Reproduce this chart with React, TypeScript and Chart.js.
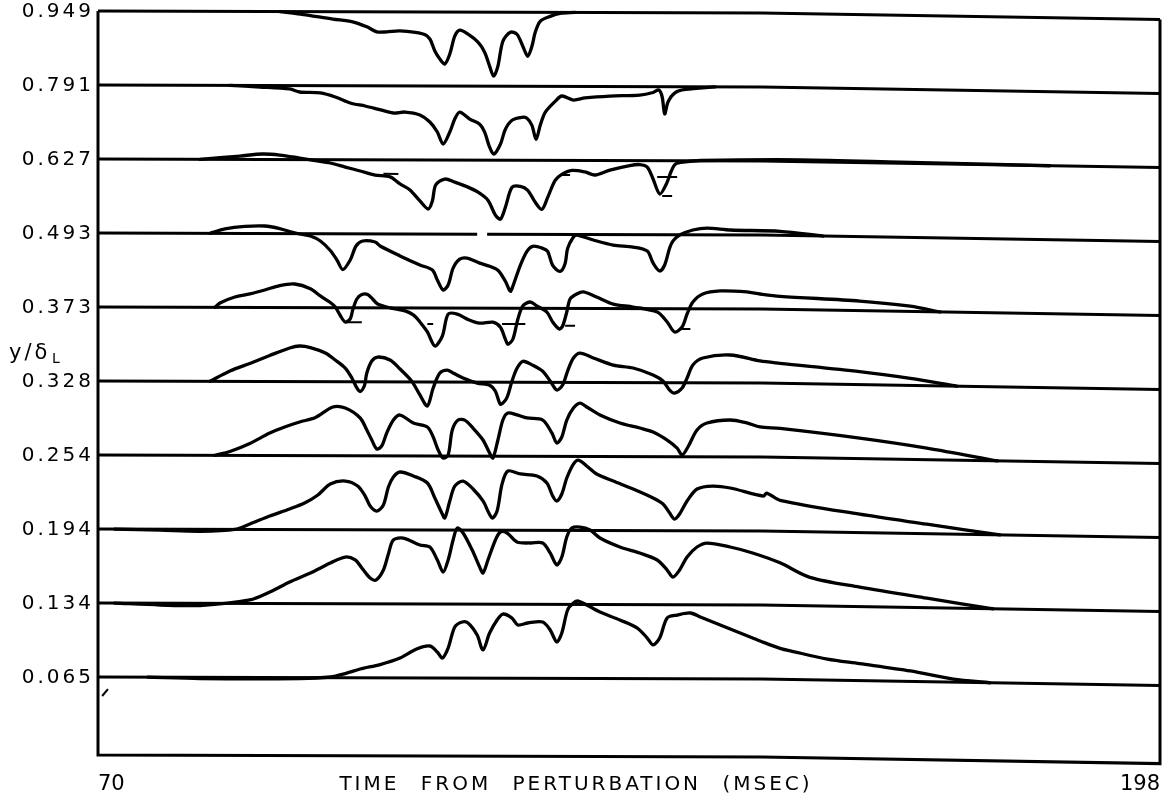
import React, { useEffect, useRef } from "react";
import { Chart, registerables } from "chart.js";

Chart.register(...registerables);

// ---- axis text -------------------------------------------------------------
const Y_LABELS = ["0.065", "0.134", "0.194", "0.254", "0.328", "0.373", "0.493", "0.627", "0.791", "0.949"]; // bottom -> top
const X_TICKS = [70, 198];
const X_TITLE = "TIME FROM PERTURBATION (MSEC)";
const Y_TITLE = "y/δ";
const Y_TITLE_SUB = "L";

// amplitude units between neighbouring trace baselines
const LEVEL_STEP = 74;
const FRAME_BOTTOM = -78;

// slow drift of all baselines in the scanned record (time ms -> amplitude units)
const DRIFT_T = [70, 150, 198];
const DRIFT_V = [0, -2, -8.6];

// gap in the 0.493 baseline
const GAP_LEVEL = 6;
const GAP_T = [115.7, 116.9];

// ---- traces: time (ms) and deviation from own baseline (amplitude units) ----
const T_0949 = [91.9, 94.4, 98.3, 100.7, 102.4, 103.6, 104.8, 106.4, 109.2, 110.0, 110.6, 111.2, 111.8, 112.4, 113.0, 113.6, 114.6, 115.8, 116.6, 117.2, 117.7, 118.2, 118.8, 119.7, 120.5, 121.2, 121.8, 122.3, 122.7, 123.3, 124.5, 125.7, 127.5];
const V_0949 = [0, -2.4, -7.3, -10, -15, -20, -20, -19, -22, -27, -39, -47, -52, -42, -24, -18, -22, -30, -40, -54, -64, -54, -29, -20, -22, -34, -44, -34, -20, -9, -4, -1, 0];

const T_0791 = [85.9, 89.5, 93.1, 94.3, 96.8, 98.6, 100.4, 102.2, 103.7, 105.6, 107.0, 108.8, 110.0, 110.9, 111.6, 112.4, 113.0, 113.6, 114.8, 116.0, 116.6, 117.2, 117.7, 118.5, 119.1, 119.9, 121.1, 121.7, 122.3, 122.8, 123.3, 123.9, 125.1, 125.9, 127.3, 128.7, 131.7, 135.3, 136.9, 137.6, 138.0, 138.3, 138.7, 139.5, 140.8, 144.4];
const V_0791 = [0, -1.5, -3.4, -6.4, -7.3, -11.3, -17.2, -20.2, -23.2, -27.1, -26.1, -29, -36, -46, -58, -46, -33, -26, -33, -38, -46, -61, -68, -58, -43, -34, -31, -32, -39, -53, -39, -26, -15, -9.6, -13.6, -11.5, -9.5, -8.4, -5.8, -3.3, -10.3, -27.3, -15.3, -6.3, -2.7, 0];

const T_0627 = [82.3, 87.1, 89.8, 91.9, 94.3, 96.2, 98.0, 99.8, 101.6, 103.4, 105.2, 106.4, 107.6, 108.8, 109.8, 110.3, 110.7, 111.8, 113.0, 114.6, 115.8, 117.0, 117.9, 118.5, 119.1, 119.9, 120.9, 121.8, 122.7, 123.5, 124.2, 125.1, 125.9, 127.1, 128.7, 129.9, 131.7, 134.1, 135.3, 136.2, 136.9, 137.7, 138.5, 139.1, 139.6, 140.8, 142.6, 154.6, 166.7, 184.7];
const V_0627 = [0, 3.4, 5.5, 4.5, 1.6, -0.9, -3.3, -7.3, -11.2, -15.2, -17, -24, -30, -41, -49, -41, -25, -19, -22, -27, -32, -40, -55, -59, -47, -27, -26, -30, -42, -49, -37, -20, -14, -10, -11.5, -14.5, -9.5, -4.9, -3.9, -6.4, -18.3, -33.3, -23.3, -10.3, -3.3, -1.2, 0.3, 1.8, 1.2, 0];

const T_0493 = [83.5, 85.3, 87.7, 90.1, 91.9, 93.1, 94.3, 95.6, 96.8, 98.0, 98.8, 99.5, 100.4, 101.1, 101.9, 103.4, 104.0, 106.4, 108.8, 110.3, 110.9, 111.6, 112.2, 112.8, 113.6, 114.5, 116.0, 117.2, 118.2, 119.1, 119.7, 120.0, 120.9, 121.7, 122.4, 123.6, 124.2, 124.8, 125.7, 126.3, 126.6, 127.3, 127.7, 129.7, 132.1, 134.5, 136.2, 136.9, 137.7, 138.3, 138.9, 139.3, 140.1, 141.7, 143.4, 146.2, 152.2, 157.4];
const V_0493 = [0, 4.4, 7, 7.5, 5, 2, -0.4, -2.4, -7.3, -16.8, -26.3, -35.8, -26.2, -12.2, -7.2, -8.2, -12.2, -22, -31, -36, -46, -56, -51, -34, -25, -24, -29, -32, -36, -47, -57, -52, -31, -17, -12, -14, -17, -31, -37, -29, -14, -2.6, -0.6, -5.5, -10.5, -12.4, -16.4, -28.3, -36.3, -30.3, -13.3, -6.3, -0.3, 4.8, 6.8, 4.9, 4, 0];

const T_0373 = [84.1, 84.7, 86.5, 88.3, 90.1, 91.9, 93.7, 95.6, 96.8, 98.0, 98.6, 99.2, 99.8, 100.4, 100.7, 101.2, 101.8, 102.5, 103.1, 103.7, 105.2, 107.0, 108.0, 108.8, 109.7, 110.6, 111.5, 112.2, 113.3, 114.5, 116.0, 117.6, 118.5, 119.1, 119.4, 120.0, 120.6, 121.2, 122.1, 122.9, 124.1, 124.8, 125.6, 126.0, 126.5, 126.9, 127.7, 128.5, 130.1, 132.1, 134.5, 137.4, 138.6, 139.5, 140.4, 141.0, 141.7, 142.9, 145.0, 148.2, 149.8, 152.2, 161.8, 167.9, 171.5];
const V_0373 = [0, 4.4, 10.4, 13.5, 17.5, 22, 23.6, 19, 11.7, 5.2, 0.7, -7.8, -14.3, -11.2, -2.2, 8.8, 13.3, 13.3, 8.8, 3.8, 0, -3, -7, -14, -24, -38, -28, -6, -6, -11, -15, -14, -19, -31, -36, -31, -11, 2.3, 6.3, 2.3, -3.7, -13.6, -20.6, -17.6, -3.6, 9.4, 14.4, 16.5, 11.5, 4.5, 1.6, -3.3, -13.3, -23.3, -18.2, -5.2, 6.8, 14.8, 17.9, 17, 15, 13, 9.6, 5.4, 0];

const T_0328 = [83.5, 85.9, 88.3, 90.7, 93.1, 94.3, 95.6, 97.4, 98.6, 99.8, 100.6, 101.2, 101.6, 102.1, 102.4, 103.0, 103.7, 105.2, 106.4, 107.8, 108.8, 109.7, 110.4, 111.2, 112.1, 112.8, 114.0, 115.7, 117.2, 117.9, 118.5, 119.1, 119.4, 119.9, 120.5, 121.2, 122.4, 123.6, 124.5, 125.3, 126.0, 126.6, 127.3, 128.1, 129.7, 132.1, 134.5, 136.9, 138.1, 138.9, 139.5, 140.4, 141.0, 141.7, 142.9, 146.2, 149.8, 152.2, 161.8, 167.9, 173.5];
const V_0328 = [0, 10.4, 18, 26, 33.6, 35.6, 34.1, 28.7, 21.7, 13.7, 3.8, -6.2, -9.7, -4.2, 8.8, 20.8, 24.8, 21.9, 12.9, 0.9, -13, -24, -6, 9, 12, 9, 4, -1, -3, -9, -22, -18, -13, 1.2, 14, 21, 17, 11, 1.4, -7.6, -2.6, 11.4, 24.4, 29.4, 24.5, 17.5, 14.6, 7.7, 1.7, -7.3, -10.3, -5.2, 4.8, 17.8, 24.8, 27.9, 22, 20, 13, 7, 0];

const T_0254 = [84.1, 85.9, 88.3, 90.7, 92.5, 94.3, 96.2, 98.3, 99.8, 101.6, 102.4, 103.0, 103.6, 104.2, 104.8, 105.6, 106.4, 108.0, 109.7, 110.4, 111.0, 111.6, 112.2, 112.7, 113.4, 114.2, 115.2, 116.4, 117.2, 117.6, 118.2, 118.8, 119.4, 120.5, 121.7, 123.6, 124.7, 125.3, 125.9, 126.5, 127.3, 128.1, 128.9, 130.5, 132.9, 135.3, 136.9, 138.6, 139.8, 140.4, 141.1, 142.2, 143.4, 146.2, 148.2, 149.8, 152.2, 161.8, 169.9, 178.4];
const V_0254 = [0, 3.9, 12, 22.5, 28.6, 33.6, 38.1, 48.7, 47.7, 37.8, 25.8, 15.8, 6.8, 9.9, 22.9, 35.9, 40.9, 33, 29, 19, 6, -2, 1, 26, 36, 36, 28, 16.2, 3.2, -1.8, 16.2, 36.2, 43.2, 41.3, 38.3, 36.3, 23.4, 13.4, 19.4, 36.4, 48.4, 53.4, 49.5, 41.5, 33.6, 28.6, 24.7, 16.7, 8.7, 1.8, 9.8, 26.8, 33.8, 36.9, 34, 30, 29, 20.6, 11.7, 0];

const T_0194 = [72, 77.5, 82.3, 86.5, 88.3, 90.7, 93.1, 94.9, 96.5, 98.0, 99.8, 101.3, 102.2, 102.8, 103.6, 104.4, 105.0, 105.6, 106.4, 108.0, 109.7, 110.6, 111.5, 111.8, 112.4, 113.0, 114.0, 115.2, 116.4, 117.5, 118.1, 118.7, 119.4, 120.9, 122.9, 124.1, 124.8, 125.3, 125.9, 126.5, 127.3, 127.9, 128.9, 130.1, 132.1, 134.5, 136.9, 138.1, 138.9, 139.5, 140.1, 141.0, 142.2, 144.1, 146.2, 150.2, 150.6, 152.2, 161.8, 169.9, 178.7];
const V_0194 = [0, -1, -2, 0, 5.5, 13.5, 20.6, 26.6, 34.7, 45.7, 48.7, 43.8, 33.8, 23.8, 18.8, 24.9, 42.9, 52.9, 57.9, 54, 47, 32, 16, 12, 29, 44, 49, 41.1, 29.2, 12.2, 19.2, 46.2, 59.2, 56.3, 54.3, 47.3, 34.4, 29.4, 36.4, 52.4, 66.4, 70.4, 64.5, 56.5, 49.5, 41.6, 32.7, 26.7, 17.7, 11.7, 16.7, 29.8, 41.8, 44.8, 42.9, 35, 38, 31, 18.4, 9.5, 0];

const T_0134 = [72, 77.5, 82.3, 88.3, 90.7, 93.1, 95.6, 98.0, 99.8, 101.0, 101.8, 102.8, 103.5, 104.4, 105.0, 105.6, 106.8, 108.8, 110.0, 110.9, 111.6, 112.2, 112.8, 113.3, 114.0, 115.1, 116.0, 116.4, 117.0, 117.9, 118.5, 119.3, 120.5, 122.1, 123.6, 124.5, 125.3, 125.9, 126.5, 127.1, 128.1, 129.3, 130.5, 132.9, 135.3, 137.4, 138.6, 139.3, 140.1, 141.0, 142.2, 143.4, 146.2, 148.9, 152.2, 155.8, 161.8, 169.9, 177.9];
const V_0134 = [0, -1.8, -2.2, 3.5, 11.5, 21.6, 30.6, 40.7, 46.7, 43.8, 35.8, 25.8, 23.8, 33.9, 49.9, 63.9, 65.9, 59, 57, 44, 32, 44, 64, 76.1, 71.1, 54.1, 37.1, 31.2, 44.2, 64.2, 72.2, 71.2, 62.3, 61.3, 61.3, 51.4, 39.4, 47.4, 67.4, 76.4, 77.4, 74.5, 66.5, 57.6, 51.6, 44.7, 34.7, 27.7, 34.7, 47.8, 57.8, 61.8, 57.9, 52, 42.5, 28.5, 19.5, 9.5, 0];

const T_0065 = [76, 82.3, 94.3, 98.0, 99.8, 101.6, 104.0, 106.4, 108.4, 110.0, 110.9, 111.5, 112.2, 113.0, 113.9, 114.6, 115.7, 116.4, 117.2, 118.1, 118.8, 119.9, 120.6, 121.8, 123.6, 124.5, 125.3, 125.9, 126.6, 127.3, 127.9, 128.9, 130.5, 132.9, 135.0, 136.2, 136.9, 137.7, 138.6, 139.8, 141.4, 142.6, 144.1, 146.5, 148.9, 149.8, 152.2, 153.8, 157.9, 161.8, 167.9, 173.1, 177.5];
const V_0065 = [0, -1.2, -0.9, 0.7, 4.2, 8.8, 13.3, 19.9, 29, 32, 26, 20, 30, 51.1, 56.1, 55.1, 43.1, 28.2, 45.2, 58.2, 64.2, 60.2, 53.3, 55.3, 56.3, 48.4, 36.4, 45.4, 68.4, 75.4, 77.4, 73.5, 66.5, 58.6, 50.6, 40.6, 33.7, 40.7, 60.7, 63.7, 65.8, 61.8, 56.8, 48.9, 41, 38, 31, 28, 21, 17, 10.5, 3, 0];

// small hand-drawn reading marks: [level, t1, v1, t2, v2]
const MARKS = [
  [7, 104.4, -14, 106.2, -14],
  [7, 125.7, -14.6, 126.9, -14.6],
  [7, 137.4, -16.3, 139.8, -16.3],
  [7, 138.0, -35.3, 139.2, -35.3],
  [5, 100.0, -14.5, 101.8, -14.5],
  [5, 109.7, -16, 110.4, -16],
  [5, 118.7, -15.8, 121.5, -15.8],
  [5, 126.3, -17.3, 127.5, -17.3],
  [5, 140.1, -20.3, 141.4, -20.3],
  [0, 70.5, -19, 71.2, -12],
];

const TRACES: [number, number[], number[]][] = [
  [9, T_0949, V_0949],
  [8, T_0791, V_0791],
  [7, T_0627, V_0627],
  [6, T_0493, V_0493],
  [5, T_0373, V_0373],
  [4, T_0328, V_0328],
  [3, T_0254, V_0254],
  [2, T_0194, V_0194],
  [1, T_0134, V_0134],
  [0, T_0065, V_0065],
];

function drift(t: number): number {
  for (let i = 1; i < DRIFT_T.length; i++) {
    if (t <= DRIFT_T[i]) {
      const f = (t - DRIFT_T[i - 1]) / (DRIFT_T[i] - DRIFT_T[i - 1]);
      return DRIFT_V[i - 1] + f * (DRIFT_V[i] - DRIFT_V[i - 1]);
    }
  }
  return DRIFT_V[DRIFT_V.length - 1];
}

function pt(level: number, t: number, v: number) {
  return { x: t, y: level * LEVEL_STEP + v + drift(t) };
}

const INK = "#000";

function buildDatasets() {
  const ds: any[] = [];
  const tMin = X_TICKS[0];
  const tMax = X_TICKS[X_TICKS.length - 1];
  const top = (Y_LABELS.length - 1) * LEVEL_STEP;
  // frame
  ds.push({
    data: [
      { x: tMin, y: top },
      { x: tMin, y: FRAME_BOTTOM },
      ...DRIFT_T.slice(1).map((t) => ({ x: t, y: FRAME_BOTTOM + drift(t) })),
      { x: tMax, y: top + drift(tMax) },
    ],
    borderColor: INK,
    borderWidth: 3,
    tension: 0,
    clip: false,
  });
  // baselines
  Y_LABELS.forEach((_, level) => {
    const data: any[] = [];
    if (level === GAP_LEVEL) {
      const all = [...DRIFT_T, GAP_T[0], GAP_T[1]].sort((a, b) => a - b);
      all.forEach((t) => {
        data.push(pt(level, t, 0));
        if (t === GAP_T[0]) data.push({ x: t + 0.01, y: null });
      });
    } else {
      DRIFT_T.forEach((t) => data.push(pt(level, t, 0)));
    }
    ds.push({ data, borderColor: INK, borderWidth: 3, tension: 0, spanGaps: false, clip: false });
  });
  // traces
  TRACES.forEach(([level, ts, vs]) => {
    const n = Math.min(ts.length, vs.length);
    const data = [];
    for (let i = 0; i < n; i++) data.push(pt(level, ts[i], vs[i]));
    ds.push({ data, borderColor: INK, borderWidth: 3.3, tension: 0.3, clip: false, borderJoinStyle: "round", borderCapStyle: "round" });
  });
  // marks
  MARKS.forEach(([level, t1, v1, t2, v2]) => {
    ds.push({ data: [pt(level, t1, v1), pt(level, t2, v2)], borderColor: INK, borderWidth: 2, tension: 0, clip: false });
  });
  return ds;
}

const textPlugin = {
  id: "scanText",
  afterDraw(chart: any) {
    const ctx = chart.ctx as any;
    const ys = chart.scales.y;
    ctx.save();
    ctx.fillStyle = "#000";
    // y tick labels (spaced like the original lettering)
    ctx.font = '20px "DejaVu Sans"';
    ctx.letterSpacing = "3px";
    ctx.textAlign = "right";
    ctx.textBaseline = "middle";
    ys.ticks.forEach((tk: any, i: number) => {
      ctx.fillText(Y_LABELS[i], ys.left + ys.width - 4, ys.getPixelForValue(tk.value) + 1);
    });
    // y title
    ctx.textBaseline = "alphabetic";
    ctx.textAlign = "left";
    ctx.font = '21px "DejaVu Sans"';
    ctx.fillText(Y_TITLE, 9, 359);
    ctx.letterSpacing = "0px";
    ctx.font = '14px "DejaVu Sans"';
    ctx.fillText(Y_TITLE_SUB, 52, 363);
    // x title
    ctx.font = '20px "DejaVu Sans"';
    ctx.letterSpacing = "3px";
    ctx.wordSpacing = "12px";
    ctx.textAlign = "center";
    ctx.fillText(X_TITLE, 576, 790);
    ctx.restore();
  },
};

export default function App() {
  const ref = useRef<HTMLCanvasElement>(null);
  useEffect(() => {
    const canvas = ref.current;
    if (!canvas) return;
    const chart = new Chart(canvas, {
      type: "line",
      data: { datasets: buildDatasets() },
      options: {
        responsive: false,
        animation: false,
        layout: { padding: { top: 8, right: 12, left: 0, bottom: 0 } },
        elements: { point: { radius: 0 } },
        plugins: { legend: { display: false }, tooltip: { enabled: false }, title: { display: false } },
        scales: {
          x: {
            type: "linear",
            min: X_TICKS[0],
            max: X_TICKS[X_TICKS.length - 1],
            grid: { display: false, drawTicks: false },
            border: { display: false },
            afterBuildTicks: (s: any) => {
              s.ticks = X_TICKS.map((v) => ({ value: v }));
            },
            afterFit: (s: any) => {
              s.height = 38;
              s.paddingLeft = 0;
              s.paddingRight = 0;
            },
            ticks: {
              align: "inner",
              color: "#000",
              font: { family: "DejaVu Sans", size: 21 },
              padding: 7,
              maxRotation: 0,
              autoSkip: false,
              callback: (v: any) => String(v),
            },
          },
          y: {
            type: "linear",
            min: -88,
            max: 669,
            grid: { display: false, drawTicks: false },
            border: { display: false },
            afterBuildTicks: (s: any) => {
              s.ticks = Y_LABELS.map((_, i) => ({ value: i * LEVEL_STEP }));
            },
            afterFit: (s: any) => {
              s.width = 98;
              s.paddingTop = 0;
              s.paddingBottom = 0;
            },
            ticks: {
              display: false,
              autoSkip: false,
              callback: (_v: any, i: number) => Y_LABELS[i],
            },
          },
        },
      },
      plugins: [textPlugin],
    } as any);
    return () => chart.destroy();
  }, []);
  return (
    <div style={{ position: "fixed", left: 0, top: 0, width: 1172, height: 803, background: "#fff" }}>
      <canvas ref={ref} width={1172} height={803} style={{ display: "block" }} />
    </div>
  );
}
